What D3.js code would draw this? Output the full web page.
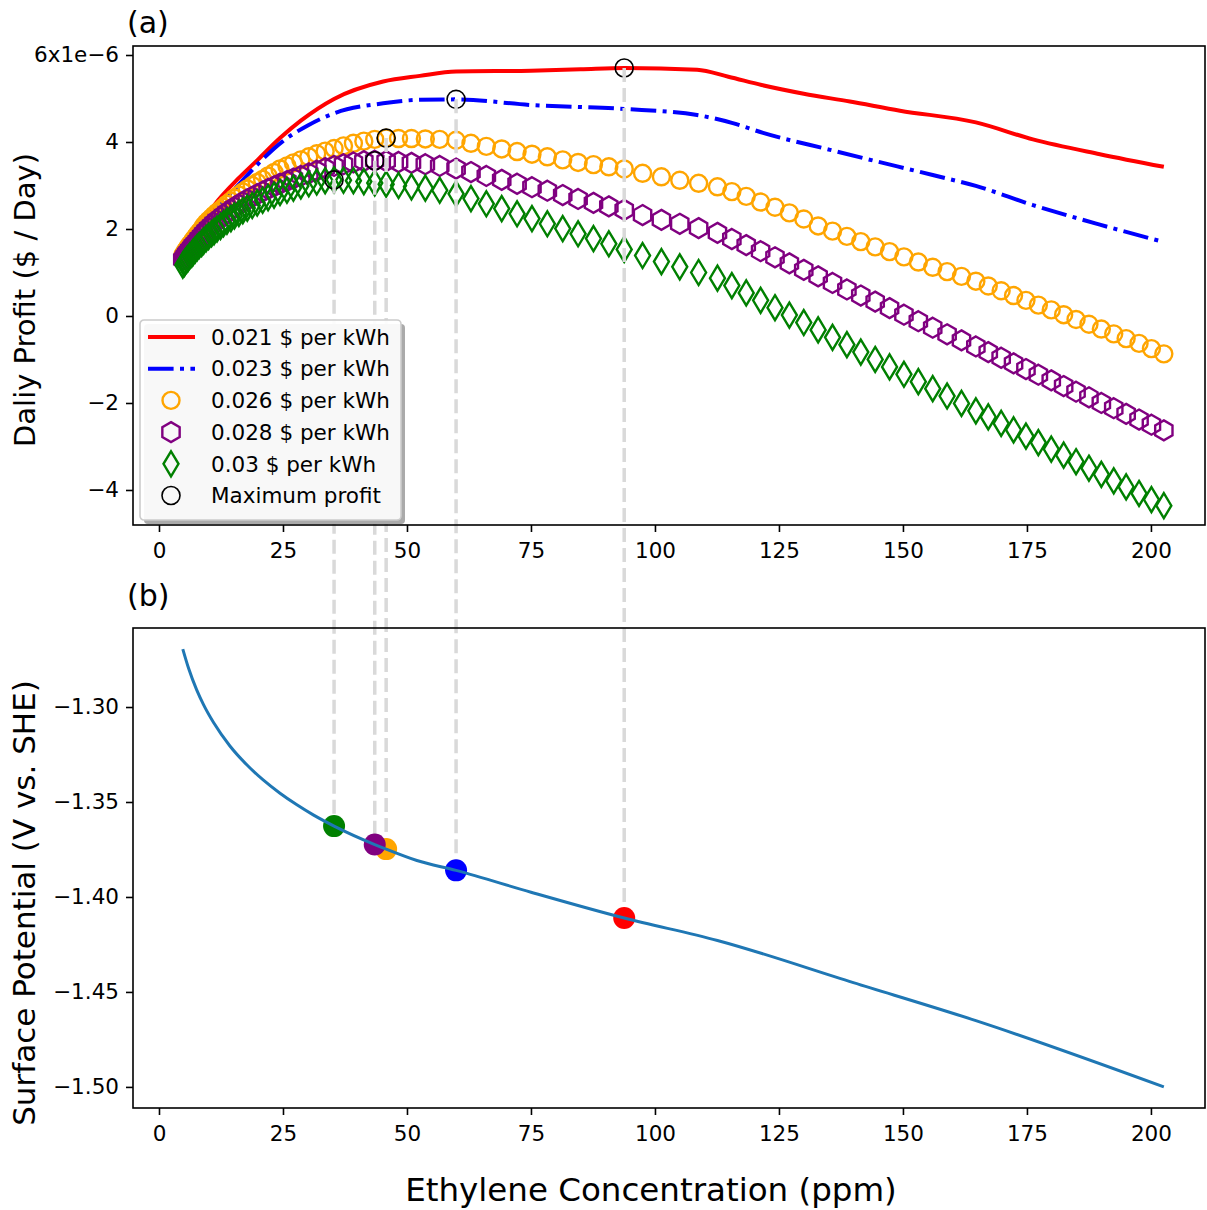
<!DOCTYPE html>
<html>
<head>
<meta charset="utf-8">
<script src="https://cdn.jsdelivr.net/npm/d3@7"></script>
<style>
  body { margin: 0; background: #fff; }
  text { font-family: 'DejaVu Sans', sans-serif; }
</style>
</head>
<body>
<div class="viz"></div>
<script>
// ethylene concentration grid shared by the marker series (ppm)
const conc = [4.8, 5.1, 5.3, 5.6, 5.9, 6.2, 6.6, 6.9, 7.3, 7.7, 8.1, 8.6, 9.0, 9.5, 10.0, 10.6, 11.1, 11.7, 12.4, 13.0,
  13.7, 14.5, 15.2, 16.1, 16.9, 17.8, 18.8, 19.8, 20.9, 22.0, 23.2, 24.4, 25.8, 27.1, 28.6, 30.2, 31.8, 33.5, 35.3,
  37.2, 39.2, 41.3, 43.5, 45.8, 48.3, 50.9, 53.7, 56.6, 59.9,
  62.9, 66.0, 69.1, 72.2, 75.2, 78.3, 81.4, 84.5, 87.6, 90.7, 93.8,
  97.5, 101.3, 105.0, 108.8, 112.6,
  115.5, 118.4, 121.3, 124.2, 127.1, 130.0, 132.9, 135.8, 138.7, 141.5, 144.4, 147.3, 150.2, 153.1, 156.0, 158.9, 161.8, 164.7,
  167.2, 169.8, 172.3, 174.8, 177.3, 179.9, 182.4, 184.9, 187.5, 190.0, 192.5, 195.0, 197.6, 200.1, 202.6]

// daily profit (x1e-6 $/day) for the marker series
const profit026 = [1.40, 1.44, 1.49, 1.54, 1.59, 1.64, 1.69, 1.75, 1.81, 1.87, 1.93, 2.00, 2.07, 2.14, 2.20, 2.26, 2.32, 2.38, 2.44, 2.50,
  2.57, 2.64, 2.71, 2.78, 2.85, 2.92, 3.00, 3.07, 3.14, 3.22, 3.30, 3.38, 3.45, 3.52, 3.59, 3.66, 3.73, 3.79, 3.85,
  3.91, 3.97, 4.02, 4.06, 4.09, 4.08, 4.08, 4.07, 4.06, 4.04,
  3.97, 3.90, 3.84, 3.78, 3.72, 3.66, 3.59, 3.53, 3.48, 3.43, 3.38,
  3.28, 3.20, 3.12, 3.05, 2.97,
  2.86, 2.75, 2.62, 2.50, 2.37, 2.23, 2.07, 1.95, 1.83, 1.71, 1.59, 1.48, 1.36, 1.24, 1.12, 1.02, 0.91, 0.80,
  0.69, 0.58, 0.47, 0.36, 0.25, 0.14, 0.03, -0.08, -0.19, -0.30, -0.41, -0.52, -0.63, -0.75, -0.87]
const profit028 = [1.30, 1.34, 1.38, 1.43, 1.47, 1.52, 1.57, 1.62, 1.67, 1.72, 1.78, 1.84, 1.90, 1.96, 2.02, 2.08, 2.14, 2.20, 2.26, 2.32,
  2.38, 2.44, 2.50, 2.56, 2.62, 2.68, 2.74, 2.80, 2.86, 2.92, 2.98, 3.04, 3.10, 3.16, 3.22, 3.28, 3.34, 3.40, 3.45,
  3.49, 3.53, 3.56, 3.57, 3.56, 3.54, 3.52, 3.49, 3.45, 3.39,
  3.31, 3.22, 3.13, 3.04, 2.96, 2.88, 2.78, 2.69, 2.60, 2.52, 2.44,
  2.32, 2.21, 2.12, 2.02, 1.91,
  1.77, 1.63, 1.49, 1.35, 1.21, 1.06, 0.91, 0.76, 0.61, 0.47, 0.33, 0.18, 0.03, -0.12, -0.27, -0.42, -0.56, -0.70,
  -0.83, -0.96, -1.09, -1.22, -1.35, -1.48, -1.61, -1.74, -1.87, -2.00, -2.12, -2.25, -2.38, -2.50, -2.63]
const profit030 = [1.17, 1.21, 1.25, 1.29, 1.33, 1.38, 1.42, 1.47, 1.52, 1.57, 1.62, 1.67, 1.72, 1.78, 1.83, 1.89, 1.94, 2.00, 2.06, 2.12,
  2.18, 2.24, 2.30, 2.36, 2.42, 2.48, 2.54, 2.60, 2.66, 2.72, 2.78, 2.84, 2.89, 2.94, 2.99, 3.04, 3.08, 3.11, 3.13,
  3.12, 3.11, 3.09, 3.06, 3.03, 3.00, 2.97, 2.94, 2.89, 2.81,
  2.70, 2.58, 2.47, 2.35, 2.24, 2.12, 2.01, 1.89, 1.78, 1.66, 1.53,
  1.39, 1.25, 1.13, 1.00, 0.87,
  0.70, 0.53, 0.36, 0.19, 0.02, -0.15, -0.32, -0.49, -0.66, -0.83, -1.00, -1.17, -1.34, -1.51, -1.67, -1.84, -2.01, -2.18,
  -2.32, -2.47, -2.62, -2.76, -2.91, -3.06, -3.20, -3.35, -3.50, -3.64, -3.79, -3.93, -4.08, -4.22, -4.36]

// line series
const conc021 = [4.8, 8.1, 12.0, 15.9, 19.9, 24.4, 28.6, 35.3, 45.2, 52.6, 59.9, 75.0, 85.0, 93.8, 108.5, 114.8, 121.5, 130.0, 139.3, 149.4, 164.7, 176.2, 189.7, 202.6]
const profit021 = [1.45, 2.05, 2.67, 3.15, 3.59, 4.09, 4.49, 4.99, 5.39, 5.52, 5.62, 5.64, 5.67, 5.70, 5.66, 5.50, 5.31, 5.11, 4.93, 4.72, 4.45, 4.06, 3.72, 3.43]
const conc023 = [4.8, 8.1, 12.0, 16.3, 20.0, 25.0, 30.0, 35.3, 45.2, 52.6, 59.9, 75.0, 93.8, 108.5, 115.5, 121.8, 135.3, 142.7, 156.0, 164.7, 176.2, 189.7, 202.6]
const profit023 = [1.40, 1.95, 2.50, 3.05, 3.50, 4.02, 4.38, 4.66, 4.89, 4.97, 4.98, 4.85, 4.76, 4.62, 4.44, 4.21, 3.82, 3.61, 3.24, 2.99, 2.55, 2.10, 1.70]

// surface potential (V vs. SHE)
const potConc = [4.8, 6.0, 7.6, 9.0, 11.0, 14.3, 17.7, 21.0, 24.4, 27.8, 31.1, 35.3, 43.5, 45.8, 52.0, 59.9, 75.0, 93.8, 112.6, 140.0, 164.7, 202.6]
const potV = [-1.2695, -1.2799, -1.2910, -1.2989, -1.3082, -1.3205, -1.3304, -1.3384, -1.3454, -1.3515, -1.3568, -1.3627, -1.3724, -1.3748, -1.3808, -1.3860, -1.3975, -1.4111, -1.4229, -1.4451, -1.4651, -1.5000]

const xTicks = [0, 25, 50, 75, 100, 125, 150, 175, 200]
const profitTicks = [-4, -2, 0, 2, 4, 6]
const potTicks = [-1.30, -1.35, -1.40, -1.45, -1.50]

const series = [
  { label: '0.021 $ per kWh', color: 'red', kind: 'line', xs: conc021, ys: profit021 },
  { label: '0.023 $ per kWh', color: 'blue', kind: 'dashdot', xs: conc023, ys: profit023 },
  { label: '0.026 $ per kWh', color: 'orange', kind: 'circle', xs: conc, ys: profit026 },
  { label: '0.028 $ per kWh', color: 'purple', kind: 'hexagon', xs: conc, ys: profit028 },
  { label: '0.03 $ per kWh', color: 'green', kind: 'diamond', xs: conc, ys: profit030 }
]

const W = 1207, H = 1210
const panelA = { l: 133, r: 1205, t: 46, b: 525 }
const panelB = { l: 133, r: 1205, t: 628, b: 1108 }

const svg = d3.select('.viz').append('svg')
  .attr('width', W).attr('height', H)
  .style('background', '#fff')

const x = d3.scaleLinear().domain([-5.24, 210.9]).range([panelA.l, panelA.r])
const yTop = d3.scaleLinear().domain([-4.805, 6.207]).range([panelA.b, panelA.t])
const yBot = d3.scaleLinear().domain([-1.5111, -1.2584]).range([panelB.b, panelB.t])

// marker shapes
const hexPoints = r => d3.range(6).map(i => {
  const a = Math.PI / 3 * i - Math.PI / 2
  return [r * Math.cos(a), r * Math.sin(a)]
})
const markerPath = {
  circle: d3.symbol().type(d3.symbolCircle).size(Math.PI * 8.5 * 8.5)(),
  hexagon: 'M' + hexPoints(10).join('L') + 'Z',
  diamond: 'M0,-12.5L7.5,0L0,12.5L-7.5,0Z'
}

// ---- top panel ----
const gTop = svg.append('g')
const line = (s, yScale) => d3.line().x((d, i) => x(s.xs[i])).y(d => yScale(d)).curve(d3.curveMonotoneX)

series.filter(s => s.kind === 'line' || s.kind === 'dashdot').forEach(s => {
  gTop.append('path')
    .attr('d', line(s, yTop)(s.ys))
    .attr('fill', 'none')
    .attr('stroke', s.color)
    .attr('stroke-width', 4)
    .attr('stroke-dasharray', s.kind === 'dashdot' ? '25.6,6.4,4,6.4' : null)
})

series.filter(s => markerPath[s.kind]).forEach(s => {
  gTop.append('g').selectAll('path')
    .data(s.ys).enter().append('path')
    .attr('d', markerPath[s.kind])
    .attr('transform', (d, i) => `translate(${x(s.xs[i])},${yTop(d)})`)
    .attr('fill', 'none')
    .attr('stroke', s.color)
    .attr('stroke-width', 2.4)
})

// maximum profit of each price
const maxima = series.map(s => {
  const i = d3.maxIndex(s.ys)
  const c = s.xs[i]
  return { color: s.color, c, p: s.ys[i], v: potV[potConc.indexOf(c)] }
})

gTop.selectAll('.maxc')
  .data(maxima).enter().append('circle')
  .attr('cx', d => x(d.c))
  .attr('cy', d => yTop(d.p))
  .attr('r', 9)
  .attr('fill', 'none')
  .attr('stroke', 'black')
  .attr('stroke-width', 1.6)

// grey connectors between the two panels
svg.append('g').selectAll('line')
  .data(maxima).enter().append('line')
  .attr('x1', d => x(d.c)).attr('x2', d => x(d.c))
  .attr('y1', d => yTop(d.p)).attr('y2', d => yBot(d.v))
  .attr('stroke', '#d9d9d9')
  .attr('stroke-width', 3.5)
  .attr('stroke-dasharray', '14,6')

// legend
const leg = svg.append('g').attr('transform', 'translate(140,320)')
leg.append('rect').attr('x', 4).attr('y', 4).attr('width', 261).attr('height', 200)
  .attr('rx', 4).attr('fill', '#aaa')
leg.append('rect').attr('width', 261).attr('height', 200)
  .attr('rx', 4).attr('fill', '#fff').attr('fill-opacity', 0.92)
  .attr('stroke', '#cccccc').attr('stroke-width', 1.6)

const legItems = series.map(s => ({ label: s.label, color: s.color, kind: s.kind }))
  .concat([{ label: 'Maximum profit', color: 'black', kind: 'max' }])
const rows = leg.selectAll('.row').data(legItems).enter().append('g')
  .attr('transform', (d, i) => `translate(0,${17 + i * 31.7})`)
rows.each(function(d) {
  const g = d3.select(this)
  if (d.kind === 'line' || d.kind === 'dashdot') {
    g.append('line').attr('x1', 8).attr('x2', 55).attr('y1', 0).attr('y2', 0)
      .attr('stroke', d.color).attr('stroke-width', 4)
      .attr('stroke-dasharray', d.kind === 'dashdot' ? '25.6,6.4,4,6.4' : null)
  } else if (d.kind === 'max') {
    g.append('circle').attr('cx', 31).attr('r', 9).attr('fill', 'none')
      .attr('stroke', 'black').attr('stroke-width', 1.6)
  } else {
    g.append('path').attr('d', markerPath[d.kind]).attr('transform', 'translate(31,0)')
      .attr('fill', 'none').attr('stroke', d.color).attr('stroke-width', 2.4)
  }
  g.append('text').attr('x', 71).attr('dy', '0.36em')
    .attr('font-size', 21.5).text(d.label)
})

// ---- bottom panel ----
const gBot = svg.append('g')
gBot.selectAll('.dot')
  .data(maxima).enter().append('circle')
  .attr('cx', d => x(d.c))
  .attr('cy', d => yBot(d.v))
  .attr('r', 11)
  .attr('fill', d => d.color)

gBot.append('path')
  .datum(potV)
  .attr('d', d3.line().x((d, i) => x(potConc[i])).y(d => yBot(d)).curve(d3.curveMonotoneX))
  .attr('fill', 'none')
  .attr('stroke', '#1f77b4')
  .attr('stroke-width', 3)

// ---- axes ----
function styleAxis(g) {
  g.select('.domain').remove()
  g.selectAll('.tick line').attr('stroke', 'black').attr('stroke-width', 1.6)
  g.selectAll('.tick text').attr('font-size', 21.5).attr('font-family', "'DejaVu Sans', sans-serif").attr('fill', 'black')
}
const fmtInt = d3.format('d')
svg.append('g').attr('transform', `translate(0,${panelA.b})`)
  .call(d3.axisBottom(x).tickValues(xTicks).tickFormat(fmtInt).tickSize(7).tickPadding(11)).call(styleAxis)
svg.append('g').attr('transform', `translate(0,${panelB.b})`)
  .call(d3.axisBottom(x).tickValues(xTicks).tickFormat(fmtInt).tickSize(7).tickPadding(11)).call(styleAxis)
svg.append('g').attr('transform', `translate(${panelA.l},0)`)
  .call(d3.axisLeft(yTop).tickValues(profitTicks).tickFormat(d => d === 6 ? '6x1e\u22126' : fmtInt(d)).tickSize(7).tickPadding(7))
  .call(styleAxis)
svg.append('g').attr('transform', `translate(${panelB.l},0)`)
  .call(d3.axisLeft(yBot).tickValues(potTicks).tickFormat(d3.format('.2f')).tickSize(7).tickPadding(7))
  .call(styleAxis)

// frames
;[panelA, panelB].forEach(p => {
  svg.append('rect').attr('x', p.l).attr('y', p.t)
    .attr('width', p.r - p.l).attr('height', p.b - p.t)
    .attr('fill', 'none').attr('stroke', 'black').attr('stroke-width', 1.6)
})

// labels
svg.append('text').attr('x', 127).attr('y', 33).attr('font-size', 30).text('(a)')
svg.append('text').attr('x', 127).attr('y', 606).attr('font-size', 30).text('(b)')
svg.append('text').attr('x', 651).attr('y', 1201).attr('text-anchor', 'middle')
  .attr('font-size', 32.5).text('Ethylene Concentration (ppm)')
svg.append('text').attr('transform', 'translate(35,300) rotate(-90)').attr('text-anchor', 'middle')
  .attr('font-size', 29).text('Daliy Profit ($ / Day)')
svg.append('text').attr('transform', 'translate(35,903) rotate(-90)').attr('text-anchor', 'middle')
  .attr('font-size', 31).text('Surface Potential (V vs. SHE)')
</script>
</body>
</html>
